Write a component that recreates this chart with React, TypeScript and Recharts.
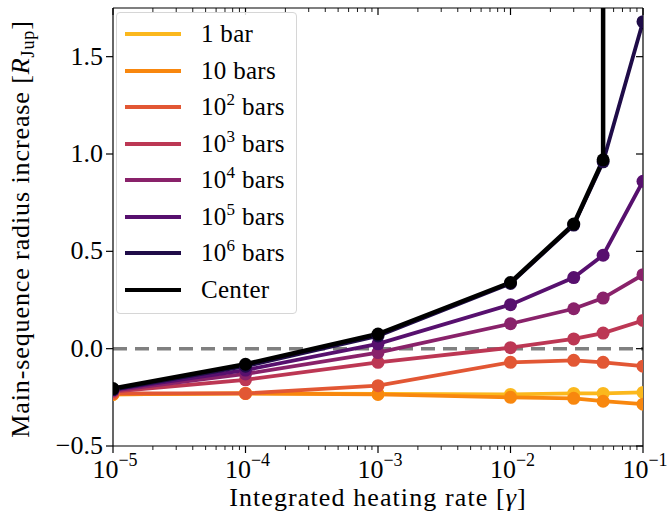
import React from "react";
import { LineChart, Line, XAxis, YAxis, ReferenceLine, Legend } from "recharts";

const FONT = "Liberation Serif";

// heating rates (gamma) where the models were run
const gammas = [1e-5, 1e-4, 1e-3, 1e-2, 3e-2, 5e-2, 1e-1];

// radius increase per pressure level [R_Jup]
const bar1 = [-0.235, -0.23, -0.232, -0.235, -0.23, -0.23, -0.225];
const bar10 = [-0.235, -0.23, -0.235, -0.25, -0.255, -0.27, -0.285];
const bar1e2 = [-0.23, -0.23, -0.19, -0.07, -0.06, -0.07, -0.09];
const bar1e3 = [-0.22, -0.16, -0.07, 0.005, 0.05, 0.08, 0.145];
const bar1e4 = [-0.215, -0.13, -0.02, 0.128, 0.205, 0.26, 0.38];
const bar1e5 = [-0.21, -0.11, 0.025, 0.226, 0.365, 0.48, 0.86];
const bar1e6 = [-0.21, -0.09, 0.065, 0.335, 0.635, 0.96, 1.68];

// center runs away at gamma = 0.05
const centerGammas = [1e-5, 1e-4, 1e-3, 1e-2, 3e-2, 5e-2, 5e-2];
const center = [-0.205, -0.08, 0.075, 0.34, 0.64, 0.97, 6];

const seriesNames = ["1 bar", "10 bars", "10^2 bars", "10^3 bars", "10^4 bars", "10^5 bars", "10^6 bars", "Center"];
const seriesColors = ["#fbb81d", "#f8870e", "#e25734", "#bc3754", "#89226a", "#57106e", "#1f0c48", "#000000"];
const seriesValues = [bar1, bar10, bar1e2, bar1e3, bar1e4, bar1e5, bar1e6, center];

const xMajor = [1e-5, 1e-4, 1e-3, 1e-2, 1e-1];
const xMinor = [-5, -4, -3, -2].flatMap((e) => [2, 3, 4, 5, 6, 7, 8, 9].map((m) => m * Math.pow(10, e)));
const xTicks = [...xMajor, ...xMinor].sort((a, b) => a - b);
const yTicks = [-0.5, 0, 0.5, 1.0, 1.5];

const toPoints = (xs: number[], ys: number[]) => xs.map((x, i) => ({ x, y: ys[i] }));

const isMajor = (v: number) => Math.abs(Math.log10(v) - Math.round(Math.log10(v))) < 1e-6;

const fmtY = (v: number) => (v < 0 ? "\u2212" : "") + Math.abs(v).toFixed(1);

const BottomTick = (props: any) => {
  const { x, y, payload } = props;
  const v = payload.value;
  const major = isMajor(v);
  return (
    <g>
      <line x1={x} x2={x} y1={y} y2={y + (major ? 7 : 4)} stroke="#000" strokeWidth={major ? 1.2 : 0.9} />
      {major && (
        <text x={x + 2} y={y + 32} textAnchor="middle" fontSize={26} fill="#000" fontFamily={FONT}>
          10
          <tspan dy={-12} fontSize={18}>{"\u2212" + Math.abs(Math.round(Math.log10(v)))}</tspan>
        </text>
      )}
    </g>
  );
};

const TopTick = (props: any) => {
  const { x, y, payload } = props;
  const major = isMajor(payload.value);
  return <line x1={x} x2={x} y1={y} y2={y + (major ? 7 : 4)} stroke="#000" strokeWidth={major ? 1.2 : 0.9} />;
};

const LeftTick = (props: any) => {
  const { x, y, payload } = props;
  return (
    <g>
      <line x1={x - 7} x2={x} y1={y} y2={y} stroke="#000" strokeWidth={1.2} />
      <text x={x - 10} y={y + 8} textAnchor="end" fontSize={26} fill="#000" fontFamily={FONT}>
        {fmtY(payload.value)}
      </text>
    </g>
  );
};

const RightTick = (props: any) => {
  const { x, y } = props;
  return <line x1={x - 7} x2={x} y1={y} y2={y} stroke="#000" strokeWidth={1.2} />;
};

const renderName = (name: string) => {
  const m = name.match(/^10\^(\d) (.*)$/);
  if (!m) return name;
  return (
    <>
      10<sup style={{ fontSize: 17, verticalAlign: "top", lineHeight: "14px" }}>{m[1]}</sup> {m[2]}
    </>
  );
};

const LegendBox = () => (
  <div
    style={{
      width: 181,
      height: 302,
      boxSizing: "border-box",
      border: "1px solid #d6d6d6",
      borderRadius: 4,
      background: "rgba(255,255,255,0.85)",
      paddingTop: 3,
    }}
  >
    {seriesNames.map((name, i) => (
      <div key={name} style={{ display: "flex", alignItems: "center", height: 36.5 }}>
        <div style={{ width: 56, height: 4, background: seriesColors[i], marginLeft: 8, marginRight: 20 }} />
        <span style={{ fontFamily: FONT, fontSize: 25, color: "#000", whiteSpace: "nowrap", letterSpacing: 0.3 }}>
          {renderName(name)}
        </span>
      </div>
    ))}
  </div>
);

const YLabel = () => (
  <text
    transform="translate(29,229) rotate(-90)"
    textAnchor="middle"
    fontSize={26}
    letterSpacing={0.9}
    fill="#000"
    fontFamily={FONT}
  >
    Main-sequence radius increase [<tspan fontStyle="italic">R</tspan>
    <tspan dy={5} fontSize={18}>Jup</tspan>
    <tspan dy={-5}>]</tspan>
  </text>
);

const XLabel = () => (
  <text x={378} y={506} textAnchor="middle" fontSize={26} letterSpacing={1.1} fill="#000" fontFamily={FONT}>
    Integrated heating rate [<tspan fontStyle="italic">γ</tspan>]
  </text>
);

export default function App() {
  return (
    <div style={{ position: "absolute", left: 0, top: 0, background: "#fff" }}>
      <LineChart width={670} height={516} margin={{ top: 7, right: 26, bottom: 69, left: 0 }}>
        <XAxis
          xAxisId="b"
          dataKey="x"
          type="number"
          scale="log"
          domain={[1e-5, 1e-1]}
          ticks={xTicks}
          interval={0}
          allowDataOverflow
          height={1}
          tickSize={0}
          tickMargin={0}
          tickLine={false}
          tick={<BottomTick />}
          axisLine={{ stroke: "#000", strokeWidth: 1.2 }}
          label={<XLabel />}
        />
        <XAxis
          xAxisId="t"
          orientation="top"
          dataKey="x"
          type="number"
          scale="log"
          domain={[1e-5, 1e-1]}
          ticks={xTicks}
          interval={0}
          allowDataOverflow
          height={1}
          tickSize={0}
          tickMargin={0}
          tickLine={false}
          tick={<TopTick />}
          axisLine={{ stroke: "#000", strokeWidth: 1.2 }}
        />
        <YAxis
          yAxisId="l"
          type="number"
          domain={[-0.5, 1.75]}
          ticks={yTicks}
          interval={0}
          allowDataOverflow
          width={113}
          tickSize={0}
          tickMargin={0}
          tickLine={false}
          tick={<LeftTick />}
          axisLine={{ stroke: "#000", strokeWidth: 1.2 }}
          label={<YLabel />}
        />
        <YAxis
          yAxisId="r"
          orientation="right"
          type="number"
          domain={[-0.5, 1.75]}
          ticks={yTicks}
          interval={0}
          allowDataOverflow
          width={1}
          tickSize={0}
          tickMargin={0}
          tickLine={false}
          tick={<RightTick />}
          axisLine={{ stroke: "#000", strokeWidth: 1.2 }}
        />
        <ReferenceLine xAxisId="b" yAxisId="l" y={0} stroke="#808080" strokeWidth={3.5} strokeDasharray="14 8" />
        {seriesValues.map((vals, i) => (
          <Line
            key={seriesNames[i]}
            xAxisId="b"
            yAxisId="l"
            data={toPoints(i === 7 ? centerGammas : gammas, vals)}
            dataKey="y"
            name={seriesNames[i]}
            stroke={seriesColors[i]}
            strokeWidth={i === 7 ? 4.5 : 3.8}
            dot={{ r: 6.5, fill: seriesColors[i], stroke: seriesColors[i], strokeWidth: 0 }}
            activeDot={false}
            isAnimationActive={false}
          />
        ))}
        <Legend
          layout="vertical"
          align="center"
          verticalAlign="middle"
          wrapperStyle={{ left: 116, top: 12, width: 181, height: 302 }}
          content={<LegendBox />}
        />
      </LineChart>
    </div>
  );
}
